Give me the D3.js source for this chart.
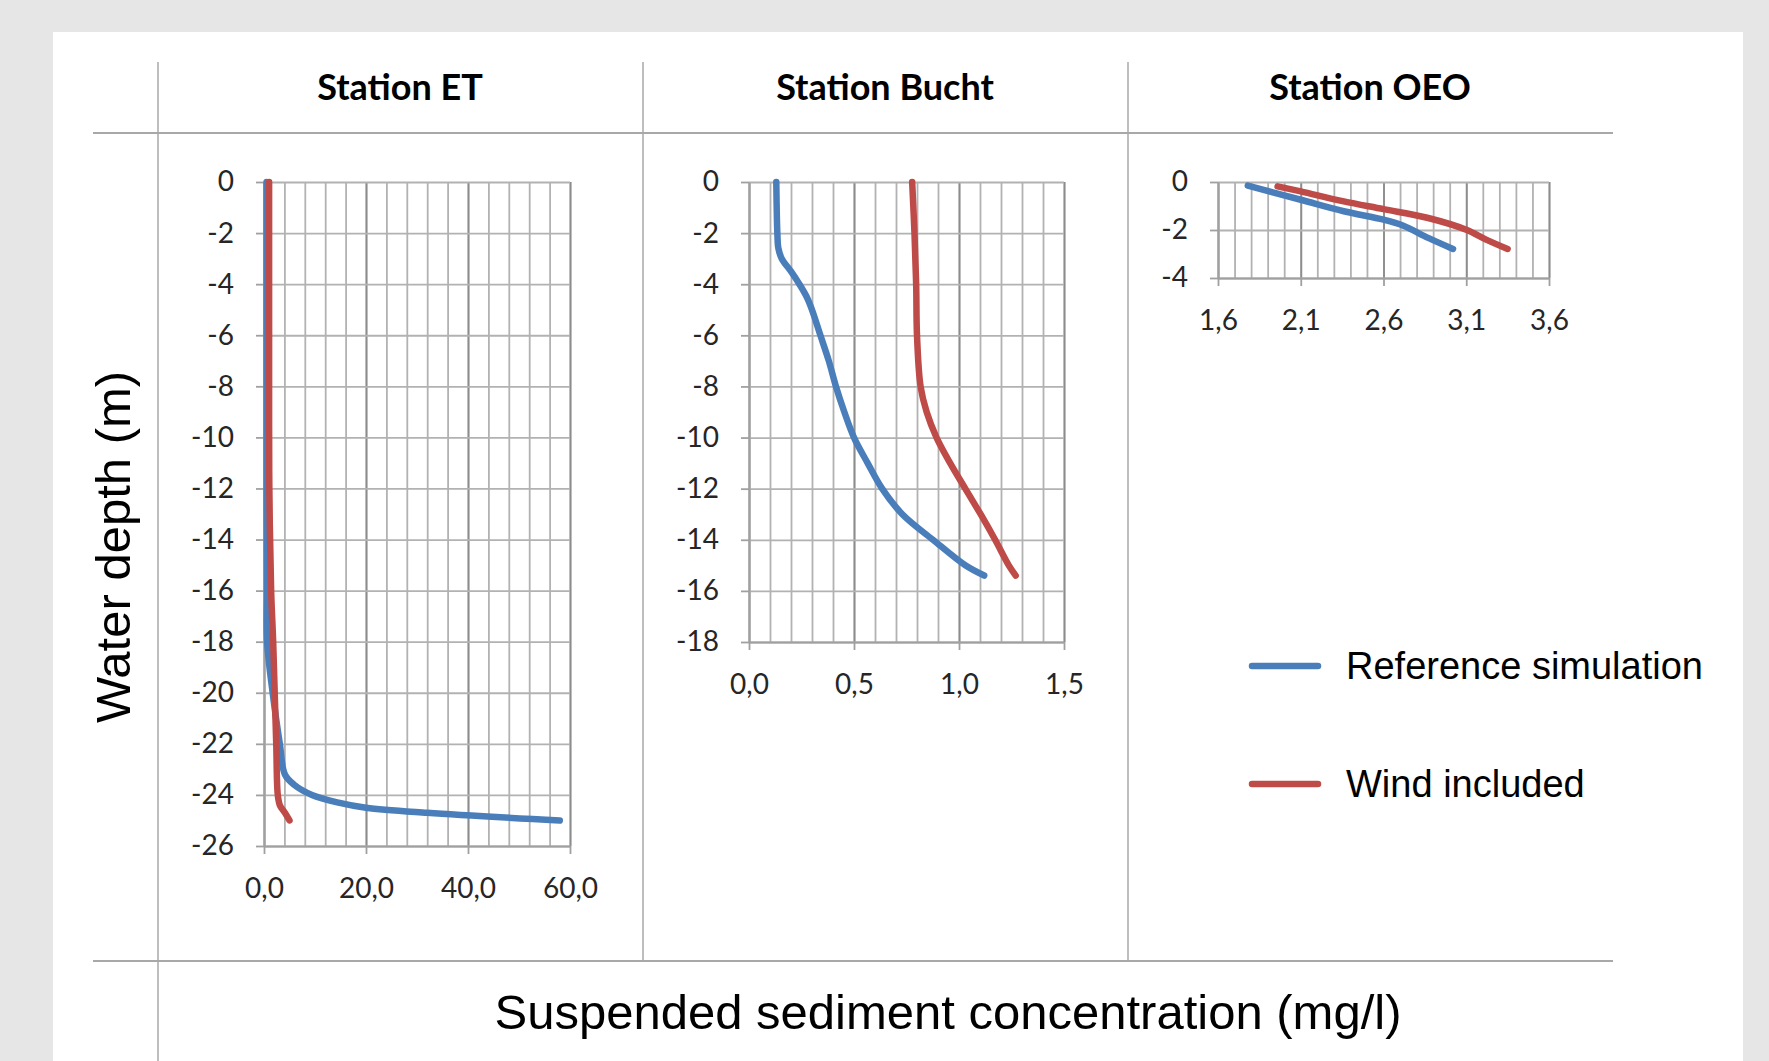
<!DOCTYPE html>
<html>
<head>
<meta charset="utf-8">
<script src="https://cdn.jsdelivr.net/npm/d3@7"></script>
<style>
  body { margin: 0; background: #e6e6e6; }
  svg { display: block; }
  .grid line { stroke: #b2b2b2; stroke-width: 1.8; }
  .grid .domain { display: none; }
  .grid.major line { stroke: #8c8c8c; }
  .axis .domain { stroke: #a0a0a0; stroke-width: 1.8; }
  .axis line { stroke: #a0a0a0; stroke-width: 1.8; }
  .axis text { font-family: Lato, sans-serif; font-size: 28px; fill: #262626; }
</style>
</head>
<body>
<script>
var width = 1769,
    height = 1061;

// Station ET
var etRefDepth  = [0, -4, -8, -12, -16, -18, -20, -22, -23.2, -23.6, -24, -24.3, -24.5, -24.7, -25];
var etRefConc   = [0.5, 0.5, 0.5, 0.5, 0.55, 0.6, 1.7, 3.1, 4.1, 5.9, 9.4, 14.6, 20, 32, 58];
var etWindDepth = [0, -4, -8, -12, -16, -18, -20, -22, -24, -24.4, -24.7, -25];
var etWindConc  = [1.0, 1.0, 1.0, 1.05, 1.4, 1.8, 2.1, 2.4, 2.7, 3.1, 4.1, 5.0];

// Station Bucht
var buRefDepth  = [0, -2, -2.6, -3, -3.5, -4, -4.5, -5, -6, -7, -8, -9, -10, -11, -12, -13, -14, -15, -15.4];
var buRefConc   = [0.13, 0.135, 0.14, 0.156, 0.2, 0.24, 0.275, 0.30, 0.34, 0.38, 0.414, 0.454, 0.50, 0.565, 0.634, 0.73, 0.876, 1.03, 1.12];
var buWindDepth = [0, -2, -4, -6, -8, -9, -10, -11, -12, -13, -14, -15, -15.4];
var buWindConc  = [0.777, 0.788, 0.796, 0.80, 0.817, 0.846, 0.893, 0.958, 1.03, 1.103, 1.172, 1.237, 1.27];

// Station OEO
var oeRefDepth  = [-0.15, -0.74, -1.22, -1.57, -1.82, -2.33, -2.79];
var oeRefConc   = [1.78, 2.1, 2.36, 2.6, 2.72, 2.87, 3.02];
var oeWindDepth = [-0.18, -0.39, -0.81, -1.13, -1.5, -1.99, -2.40, -2.79];
var oeWindConc  = [1.96, 2.1, 2.36, 2.6, 2.87, 3.1, 3.22, 3.35];

var stations = ["Station ET", "Station Bucht", "Station OEO"];
var seriesNames = ["Reference simulation", "Wind included"];
var seriesColors = ["#4a7ebb", "#be4b48"];

var svg = d3.select("body").append("svg")
    .attr("width", width)
    .attr("height", height);

// white card
svg.append("rect")
    .attr("x", 53).attr("y", 32)
    .attr("width", 1690).attr("height", height - 32)
    .attr("fill", "#fff");

// table lines
var frame = svg.append("g").attr("stroke", "#a8a8a8").attr("fill", "none");
frame.append("line").attr("x1", 93).attr("x2", 1613).attr("y1", 133).attr("y2", 133).attr("stroke-width", 2);
frame.append("line").attr("x1", 93).attr("x2", 1613).attr("y1", 961).attr("y2", 961).attr("stroke-width", 2);
frame.append("line").attr("x1", 158).attr("x2", 158).attr("y1", 62).attr("y2", height).attr("stroke-width", 1.5);
frame.append("line").attr("x1", 643).attr("x2", 643).attr("y1", 62).attr("y2", 961).attr("stroke-width", 1.5);
frame.append("line").attr("x1", 1128).attr("x2", 1128).attr("y1", 62).attr("y2", 961).attr("stroke-width", 1.5);

var titleX = [400, 885, 1370];
svg.selectAll(".station")
    .data(stations)
  .enter().append("text")
    .attr("class", "station")
    .attr("x", function(d, i) { return titleX[i]; })
    .attr("y", 87)
    .attr("dy", "0.35em")
    .attr("text-anchor", "middle")
    .style("font-family", "Lato, sans-serif")
    .style("font-weight", "bold")
    .style("font-size", "36px")
    .text(function(d) { return d; });

svg.append("text")
    .attr("transform", "translate(113,547) rotate(-90)")
    .attr("text-anchor", "middle")
    .attr("dy", "0.35em")
    .style("font-family", "'Liberation Sans', Arial, sans-serif")
    .style("font-size", "49px")
    .text("Water depth (m)");

svg.append("text")
    .attr("x", 948).attr("y", 1012)
    .attr("text-anchor", "middle")
    .attr("dy", "0.35em")
    .style("font-family", "'Liberation Sans', Arial, sans-serif")
    .style("font-size", "49px")
    .text("Suspended sediment concentration (mg/l)");

var comma = function(d) { return d3.format(".1f")(d).replace(".", ","); };

function panel(p) {
  var x = d3.scaleLinear().domain(p.xDomain).range([p.left, p.right]);
  var y = d3.scaleLinear().domain(p.yDomain).range([p.top, p.bottom]);
  var g = svg.append("g");

  var minor = d3.range(p.xDomain[0], p.xDomain[1] + p.minor / 2, p.minor);
  var major = d3.range(p.xDomain[0], p.xDomain[1] + p.major / 2, p.major);
  var yTicks = d3.range(p.yDomain[0], p.yDomain[1] - 0.001, -2);

  g.append("g")
      .attr("class", "grid")
      .attr("transform", "translate(0," + p.top + ")")
      .call(d3.axisBottom(x).tickValues(minor).tickSize(p.bottom - p.top).tickFormat(""));

  g.append("g")
      .attr("class", "grid major")
      .attr("transform", "translate(0," + p.top + ")")
      .call(d3.axisBottom(x).tickValues(major).tickSize(p.bottom - p.top).tickFormat(""));

  g.append("g")
      .attr("class", "grid")
      .attr("transform", "translate(" + p.left + ",0)")
      .call(d3.axisRight(y).tickValues(yTicks).tickSize(p.right - p.left).tickFormat(""));

  g.append("g")
      .attr("class", "axis")
      .attr("transform", "translate(0," + p.bottom + ")")
      .call(d3.axisBottom(x).tickValues(major).tickSizeInner(8).tickSizeOuter(0).tickPadding(24).tickFormat(comma));

  g.append("g")
      .attr("class", "axis")
      .attr("transform", "translate(" + p.left + ",0)")
      .call(d3.axisLeft(y).tickValues(yTicks).tickSizeInner(8).tickSizeOuter(0).tickPadding(22).tickFormat(function(d) { return String(d); }));

  var line = d3.line()
      .x(function(d) { return x(d[0]); })
      .y(function(d) { return y(d[1]); })
      .curve(d3.curveCatmullRom.alpha(0.5));

  p.series.forEach(function(s, i) {
    g.append("path")
        .datum(d3.zip(s.conc, s.depth))
        .attr("d", line)
        .attr("fill", "none")
        .attr("stroke", seriesColors[i])
        .attr("stroke-width", 6.5)
        .attr("stroke-linecap", "round")
        .attr("stroke-linejoin", "round");
  });
}

panel({
  xDomain: [0, 60], yDomain: [0, -26], minor: 4, major: 20,
  left: 264, right: 570, top: 182, bottom: 846,
  series: [{conc: etRefConc, depth: etRefDepth}, {conc: etWindConc, depth: etWindDepth}]
});

panel({
  xDomain: [0, 1.5], yDomain: [0, -18], minor: 0.1, major: 0.5,
  left: 749, right: 1064, top: 182, bottom: 642,
  series: [{conc: buRefConc, depth: buRefDepth}, {conc: buWindConc, depth: buWindDepth}]
});

panel({
  xDomain: [1.6, 3.6], yDomain: [0, -4], minor: 0.1, major: 0.5,
  left: 1218, right: 1549, top: 182, bottom: 278,
  series: [{conc: oeRefConc, depth: oeRefDepth}, {conc: oeWindConc, depth: oeWindDepth}]
});

// legend
var legend = svg.selectAll(".legend")
    .data(seriesNames)
  .enter().append("g")
    .attr("class", "legend")
    .attr("transform", function(d, i) { return "translate(1252," + (666 + i * 118) + ")"; });

legend.append("line")
    .attr("x1", 0).attr("x2", 66)
    .attr("stroke", function(d, i) { return seriesColors[i]; })
    .attr("stroke-width", 6.5)
    .attr("stroke-linecap", "round");

legend.append("text")
    .attr("x", 94)
    .attr("dy", "0.35em")
    .style("font-family", "'Liberation Sans', Arial, sans-serif")
    .style("font-size", "38px")
    .text(function(d) { return d; });
</script>
</body>
</html>
